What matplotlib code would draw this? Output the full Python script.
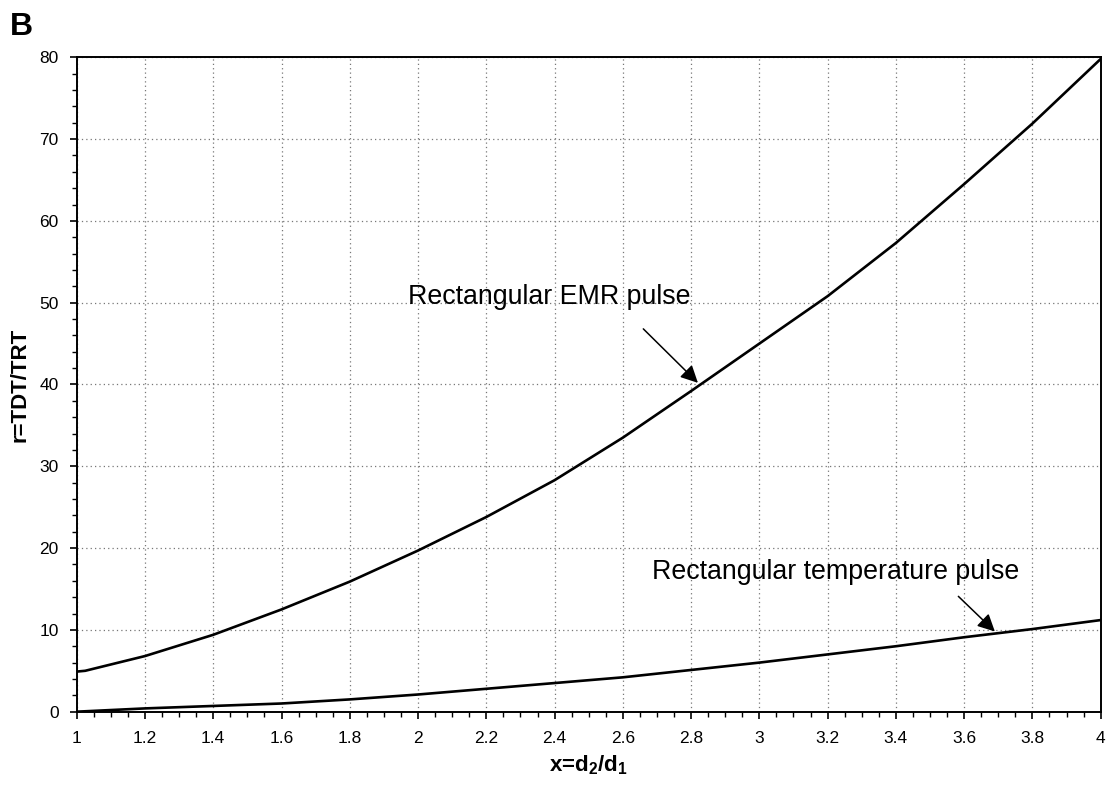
import matplotlib
matplotlib.use("Agg")
import matplotlib.pyplot as plt
from matplotlib.ticker import MultipleLocator

plt.rcParams['font.family'] = ['Liberation Sans', 'DejaVu Sans']
plt.rcParams['mathtext.fontset'] = 'custom'
plt.rcParams['mathtext.rm'] = 'Liberation Sans'
plt.rcParams['mathtext.bf'] = 'Liberation Sans:bold'

# Data
x_emr = [1.0, 1.025, 1.2, 1.4, 1.6, 1.8, 2.0, 2.2, 2.4, 2.6, 2.8, 3.0, 3.2, 3.4, 3.6, 3.8, 4.0]
r_emr = [4.9, 5.0, 6.8, 9.4, 12.5, 15.9, 19.7, 23.8, 28.3, 33.5, 39.2, 45.0, 50.8, 57.3, 64.5, 71.9, 79.8]

x_temp = [1.0, 1.2, 1.4, 1.6, 1.8, 2.0, 2.2, 2.4, 2.6, 2.8, 3.0, 3.2, 3.4, 3.6, 3.8, 4.0]
r_temp = [0.0, 0.4, 0.7, 1.0, 1.5, 2.1, 2.8, 3.5, 4.2, 5.1, 6.0, 7.0, 8.0, 9.1, 10.1, 11.2]

x_ticks = [1, 1.2, 1.4, 1.6, 1.8, 2, 2.2, 2.4, 2.6, 2.8, 3, 3.2, 3.4, 3.6, 3.8, 4]
x_tick_labels = ['1', '1.2', '1.4', '1.6', '1.8', '2', '2.2', '2.4', '2.6', '2.8', '3',
                 '3.2', '3.4', '3.6', '3.8', '4']
y_ticks = [0, 10, 20, 30, 40, 50, 60, 70, 80]

fig = plt.figure(figsize=(11.07, 7.85), dpi=100)
ax = fig.add_axes([0.0693, 0.0934, 0.925, 0.8336])

ax.plot(x_emr, r_emr, color='black', lw=1.9, solid_joinstyle='round')
ax.plot(x_temp, r_temp, color='black', lw=1.9, solid_joinstyle='round')

ax.set_xlim(1, 4)
ax.set_ylim(0, 80)
ax.set_xticks(x_ticks)
ax.set_xticklabels(x_tick_labels)
ax.set_yticks(y_ticks)
ax.xaxis.set_minor_locator(MultipleLocator(0.05))
ax.yaxis.set_minor_locator(MultipleLocator(2))

ax.tick_params(axis='both', which='major', direction='out', length=5, width=1.2,
               labelsize=12.5, colors='black', pad=9)
ax.tick_params(axis='both', which='minor', direction='out', length=3.5, width=1.0)
ax.tick_params(axis='y', which='major', pad=8)

ax.grid(True, which='major', linestyle=(0, (1, 2.5)), color='#777777', lw=0.9)
for s in ax.spines.values():
    s.set_linewidth(1.4)
    s.set_color('black')

ax.set_xlabel(r'x=d$_\mathbf{2}$/d$_\mathbf{1}$', fontsize=16, fontweight='bold', labelpad=5)
ax.set_ylabel('r=TDT/TRT', fontsize=16, fontweight='bold', labelpad=6)

arrow = dict(arrowstyle='-|>', color='black', lw=1.1, mutation_scale=26,
             shrinkA=0, shrinkB=0)
ax.annotate('', xy=(2.82, 40.2), xytext=(2.66, 46.8), arrowprops=arrow)
ax.text(1.971, 50.7, 'Rectangular EMR pulse', fontsize=19.3, va='center', ha='left')

ax.annotate('', xy=(3.69, 9.8), xytext=(3.583, 14.1), arrowprops=arrow)
ax.text(2.685, 17.1, 'Rectangular temperature pulse', fontsize=19.3, va='center', ha='left')

fig.text(0.009, 0.985, 'B', fontsize=23, fontweight='bold', va='top', ha='left')

fig.savefig('out.png', dpi=100)
